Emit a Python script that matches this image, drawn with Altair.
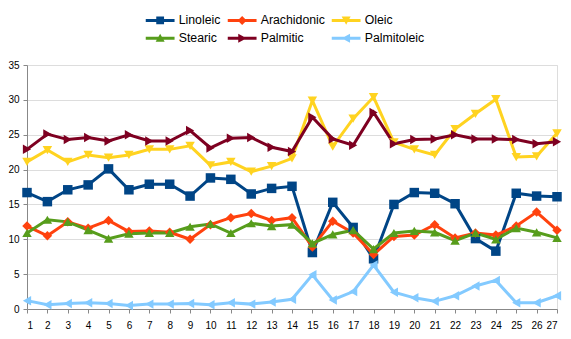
import altair as alt
import pandas as pd

days = list(range(1, 28))
series_names = ["Linoleic", "Arachidonic", "Oleic", "Stearic", "Palmitic", "Palmitoleic"]
colors = ["#004586", "#ff420e", "#ffd320", "#579d1c", "#7e0021", "#83caff"]

linoleic = [16.7, 15.4, 17.1, 17.8, 20.1, 17.1, 17.9, 17.9, 16.2, 18.8, 18.6, 16.5, 17.3, 17.6,
            8.1, 15.3, 11.7, 7.2, 15.0, 16.7, 16.6, 15.1, 10.1, 8.3, 16.6, 16.2, 16.1]
arachidonic = [11.9, 10.5, 12.5, 11.6, 12.7, 11.1, 11.2, 11.0, 10.0, 12.1, 13.1, 13.7, 12.7, 13.1,
               8.9, 12.6, 10.9, 7.8, 10.4, 10.6, 12.1, 10.2, 10.9, 10.6, 11.9, 13.9, 11.3]
oleic = [21.1, 22.8, 21.1, 22.1, 21.7, 22.1, 22.9, 22.9, 23.4, 20.6, 21.1, 19.7, 20.5, 21.6,
         29.9, 23.3, 27.3, 30.4, 23.9, 22.9, 22.1, 25.8, 28.0, 30.1, 21.8, 21.9, 25.2]
stearic = [10.9, 12.8, 12.5, 11.3, 10.1, 10.8, 10.9, 10.9, 11.8, 12.2, 10.9, 12.3, 11.9, 12.1,
           9.4, 10.7, 11.3, 8.6, 10.9, 11.2, 11.0, 9.8, 10.9, 10.0, 11.6, 11.0, 10.2]
palmitic = [22.9, 25.1, 24.3, 24.6, 24.1, 25.0, 24.1, 24.1, 25.6, 23.1, 24.5, 24.6, 23.2, 22.6,
            27.5, 24.4, 23.5, 28.2, 23.7, 24.3, 24.4, 25.0, 24.4, 24.4, 24.3, 23.7, 24.0]
palmitoleic = [1.2, 0.6, 0.8, 0.9, 0.8, 0.5, 0.7, 0.7, 0.8, 0.6, 0.9, 0.7, 1.0, 1.4,
               4.9, 1.3, 2.5, 6.3, 2.4, 1.6, 1.1, 1.9, 3.3, 4.1, 0.9, 0.9, 1.9]

values = [linoleic, arachidonic, oleic, stearic, palmitic, palmitoleic]
rows = []
for name, vals in zip(series_names, values):
    for d, v in zip(days, vals):
        rows.append({"day": d, "value": v, "series": name})
df = pd.DataFrame(rows)

marker_shapes = ["square", "diamond", "triangle-down", "triangle-up", "triangle-right", "triangle-left"]
bar = "M-2.4,-0.25H2.4V0.25H-2.4Z "
legend_shapes = [
    bar + "M-0.65,-0.65H0.65V0.65H-0.65Z",
    bar + "M0,-0.75L0.75,0L0,0.75L-0.75,0Z",
    bar + "M-0.75,-0.65L0.75,-0.65L0,0.7Z",
    bar + "M0,-0.75L0.75,0.6L-0.75,0.6Z",
    bar + "M-0.65,-0.75L0.75,0L-0.65,0.75Z",
    bar + "M0.65,-0.75L0.65,0.75L-0.75,0Z",
]

FONT = "Liberation Sans"
grid = "#b3b3b3"

legend_spec = alt.Legend(
    orient="none", legendX=127, legendY=-51, columns=3, direction="horizontal",
    title=None, labelFontSize=12.3, labelFont=FONT, labelColor="#000000",
    symbolSize=144, symbolStrokeWidth=0, labelOffset=12.4,
    columnPadding=6, rowPadding=5,
)

x_enc = alt.X("day:Q", scale=alt.Scale(domain=[1, 27], nice=False, zero=False),
              axis=alt.Axis(values=days, title=None, grid=False, tickSize=4,
                            labelPadding=7, format="d"))
y_enc = alt.Y("value:Q", scale=alt.Scale(domain=[0, 35], nice=False),
              axis=alt.Axis(values=[0, 5, 10, 15, 20, 25, 30, 35], title=None,
                            tickSize=4, labelPadding=4))
color_scale = alt.Scale(domain=series_names, range=colors)

base = alt.Chart(df)

lines = base.mark_line(strokeWidth=3).encode(
    x=x_enc, y=y_enc,
    color=alt.Color("series:N", scale=color_scale, legend=None),
    detail="series:N",
)

points = base.mark_point(filled=True, opacity=1, size=90).encode(
    x=x_enc, y=y_enc,
    color=alt.Color("series:N", scale=color_scale, legend=None),
    shape=alt.Shape("series:N", scale=alt.Scale(domain=series_names, range=marker_shapes), legend=None),
)

legend_layer = base.transform_filter("datum.day < 0").mark_point(filled=True, opacity=1).encode(
    x=x_enc, y=y_enc,
    color=alt.Color("series:N", scale=color_scale, legend=legend_spec),
    shape=alt.Shape("series:N", scale=alt.Scale(domain=series_names, range=legend_shapes), legend=legend_spec),
)

chart = alt.layer(lines, points, legend_layer).resolve_scale(
    shape="independent", color="independent"
).properties(
    width=530, height=244,
    autosize=alt.AutoSizeParams(type="none"),
    padding={"left": 27, "top": 65, "right": 14, "bottom": 30},
).configure_view(stroke=grid, strokeWidth=1).configure_axis(
    gridColor=grid, domainColor=grid, tickColor=grid, labelFont=FONT,
    labelFontSize=13, labelColor="#000000", gridWidth=1,
).configure(background="white")

chart.save("out.html", embed_options={"renderer": "svg", "actions": False})
